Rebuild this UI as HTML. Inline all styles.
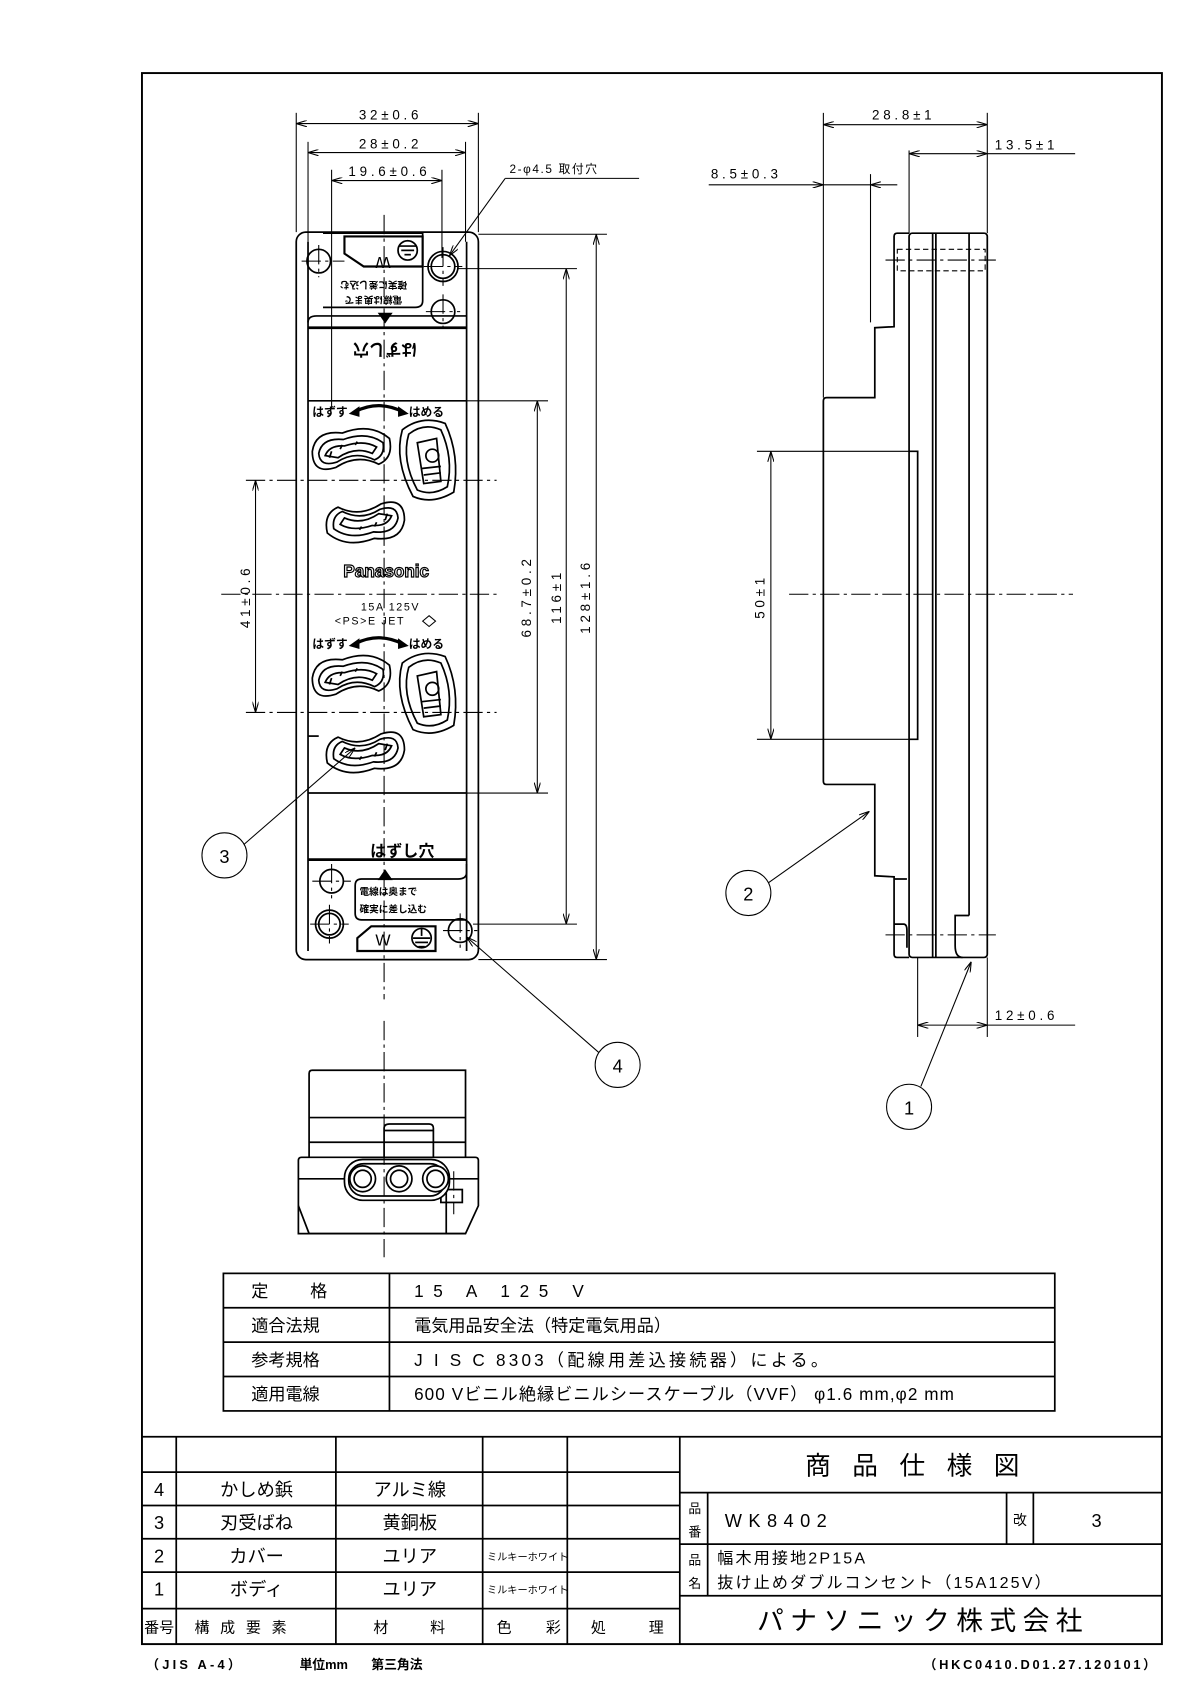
<!DOCTYPE html>
<html><head><meta charset="utf-8">
<style>
html,body{margin:0;padding:0;background:#fff;}
svg{display:block;}
text{font-family:"Liberation Sans","Noto Sans CJK JP",sans-serif;fill:#000;}
.dim{font-size:12.5px;letter-spacing:3.5px;}
</style></head>
<body>
<svg width="1190" height="1683" viewBox="-1.5 0 1110.7 1566.2" preserveAspectRatio="none" xmlns="http://www.w3.org/2000/svg">
<defs>
<marker id="ar" viewBox="0 0 10 6" refX="10" refY="3" markerWidth="10" markerHeight="6" orient="auto-start-reverse" markerUnits="userSpaceOnUse">
<path d="M0,0 L10,3 L0,6" fill="none" stroke="#000" stroke-width="1"/></marker>
<g id="ho" fill="none" stroke="#000" stroke-width="1.6">
<path d="M-36,-2 Q-33,-22 -8,-19 Q18,-29 36,-14 Q40,4 26,10 Q6,0 -14,13 Q-36,20 -36,-2Z"/>
<path d="M-30,0 Q-27,-15 -7,-13 Q15,-21 30,-10 Q32,2 22,6 Q4,-3 -13,8 Q-29,13 -30,0Z"/>
<path d="M-24,2 Q-20,-8 -6,-7 Q12,-13 24,-6 L20,0 Q4,-7 -12,4 Z"/>
<path d="M-20,4 L-18,-2 M-10,-4 L-8,-8 M4,-8 L6,-11" />
</g>
<g id="vo" fill="none" stroke="#000" stroke-width="1.6">
<path d="M-24,-28 Q-6,-42 16,-34 Q30,-4 24,30 Q4,42 -14,34 Q-32,0 -24,-28Z"/>
<path d="M-18,-24 Q-4,-35 12,-28 Q24,-2 18,25 Q4,34 -10,28 Q-25,0 -18,-24Z"/>
<path d="M-10,-16 L8,-20 L12,20 L-4,22 Z"/>
<circle cx="4" cy="-4" r="6"/>
<path d="M-6,8 L12,6 M-4,14 L12,12"/>
</g>
</defs>

<rect x="131" y="68" width="952" height="1462" fill="none" stroke="#000" stroke-width="1.8"/>

<!-- ===== FRONT VIEW ===== -->
<g fill="none" stroke="#000" stroke-width="1.6">
<rect x="275" y="216" width="170" height="677" rx="9"/>
<line x1="286" y1="225" x2="286" y2="885"/>
<line x1="434" y1="225" x2="434" y2="885"/>
<path d="M300,217 L393,217 L393,280 Q393,286 386,286 L300,286"/>
<path d="M320,220 L393,220 L393,248 L338,248 L320,236 Z" stroke-width="2"/>
<circle cx="379" cy="233" r="9"/>
<line x1="371" y1="229" x2="387" y2="229"/><line x1="373" y1="233" x2="385" y2="233"/><line x1="376" y1="237" x2="382" y2="237"/>
<circle cx="296" cy="243" r="11"/>
<circle cx="412" cy="248" r="14"/><circle cx="412" cy="248" r="11"/>
<circle cx="412" cy="290" r="11"/>
<path d="M286,300 Q286,294 294,294 L434,294"/>
<line x1="286" y1="305" x2="434" y2="305" stroke-width="2.6"/>
<line x1="286" y1="373" x2="434" y2="373"/>
<line x1="286" y1="738" x2="434" y2="738"/>
<line x1="286" y1="685" x2="296" y2="685"/>
<line x1="286" y1="800" x2="434" y2="800" stroke-width="2.6"/>
<path d="M434,804 L434,812 Q434,818 426,818 L336,818 Q330,818 330,824 L330,850 Q330,856 336,856 L434,856"/>
<path d="M332,873 L345,862 L405,862 L405,885 L332,885 Z" stroke-width="2"/>
<circle cx="392" cy="873" r="9"/>
<line x1="392" y1="864" x2="392" y2="871"/><line x1="384" y1="873" x2="400" y2="873"/><line x1="386" y1="877" x2="398" y2="877"/><line x1="389" y1="881" x2="395" y2="881"/>
<circle cx="308" cy="820" r="11"/>
<circle cx="306" cy="860" r="13"/><circle cx="306" cy="860" r="10"/>
<circle cx="428" cy="866" r="11"/>
</g>
<polygon points="351,291 365,291 358,301" fill="#000"/>
<polygon points="351,819 365,819 358,809" fill="#000"/>
<text x="356" y="229" font-size="15" text-anchor="middle" transform="rotate(180 356 234)">W</text>
<text x="347" y="262" font-size="9" font-weight="bold" text-anchor="middle" transform="rotate(180 347 262)">確実に差し込む</text>
<text x="347" y="276" font-size="9" font-weight="bold" text-anchor="middle" transform="rotate(180 347 276)">電線は奥まで</text>
<text x="358" y="320" font-size="15" font-weight="bold" text-anchor="middle" transform="rotate(180 358 320)">はずし穴</text>
<text x="374" y="797" font-size="15" font-weight="bold" text-anchor="middle">はずし穴</text>
<text x="334" y="833" font-size="9" font-weight="bold">電線は奥まで</text>
<text x="334" y="849" font-size="9" font-weight="bold">確実に差し込む</text>
<text x="356" y="880" font-size="15" text-anchor="middle">W</text>

<text x="290" y="387" font-size="11" font-weight="bold">はずす</text>
<text x="380" y="387" font-size="11" font-weight="bold">はめる</text>
<path d="M330,383 Q352,372 374,383" fill="none" stroke="#000" stroke-width="3"/>
<polygon points="324,385 334,378 334,388" fill="#000"/><polygon points="380,385 370,378 370,388" fill="#000"/>
<text x="290" y="603" font-size="11" font-weight="bold">はずす</text>
<text x="380" y="603" font-size="11" font-weight="bold">はめる</text>
<path d="M330,599 Q352,588 374,599" fill="none" stroke="#000" stroke-width="3"/>
<polygon points="324,601 334,594 334,604" fill="#000"/><polygon points="380,601 370,594 370,604" fill="#000"/>

<use href="#ho" x="326" y="422"/>
<use href="#vo" x="398" y="428"/>
<use href="#ho" x="340" y="482" transform="rotate(180 340 482)"/>
<use href="#ho" x="326" y="633"/>
<use href="#vo" x="398" y="645"/>
<use href="#ho" x="340" y="696" transform="rotate(180 340 696)"/>

<text x="359" y="537" font-size="16" font-weight="bold" text-anchor="middle" style="fill:#fff;stroke:#000;stroke-width:1.1px">Panasonic</text>
<text x="363" y="568" font-size="10" text-anchor="middle" letter-spacing="1.5">15A 125V</text>
<text x="311" y="581" font-size="10" letter-spacing="1.5">&lt;PS&gt;E JET</text>
<path d="M393,578 L399,573 L405,578 L399,583 Z" fill="none" stroke="#000" stroke-width="1"/>

<g stroke="#000" stroke-width="1" stroke-dasharray="18,4,3,4" fill="none">
<line x1="357" y1="200" x2="357" y2="930"/>
<line x1="205" y1="553" x2="462" y2="553"/>
<line x1="228" y1="447" x2="462" y2="447"/>
<line x1="228" y1="663" x2="462" y2="663"/>
<line x1="280" y1="243" x2="320" y2="243"/><line x1="296" y1="228" x2="296" y2="258"/>
<line x1="394" y1="248" x2="430" y2="248"/><line x1="412" y1="230" x2="412" y2="266"/>
<line x1="396" y1="290" x2="428" y2="290"/><line x1="412" y1="274" x2="412" y2="306"/>
<line x1="290" y1="820" x2="326" y2="820"/><line x1="308" y1="804" x2="308" y2="836"/>
<line x1="288" y1="860" x2="324" y2="860"/><line x1="306" y1="842" x2="306" y2="878"/>
<line x1="412" y1="866" x2="444" y2="866"/><line x1="428" y1="850" x2="428" y2="882"/>
</g>

<g stroke="#000" stroke-width="1" fill="none">
<line x1="275" y1="105" x2="275" y2="216"/><line x1="445" y1="105" x2="445" y2="216"/>
<line x1="286" y1="132" x2="286" y2="225"/><line x1="433" y1="132" x2="433" y2="225"/>
<line x1="308" y1="158" x2="308" y2="380"/><line x1="411" y1="158" x2="411" y2="240"/>
<line x1="275" y1="115" x2="445" y2="115" marker-start="url(#ar)" marker-end="url(#ar)"/>
<line x1="286" y1="142" x2="433" y2="142" marker-start="url(#ar)" marker-end="url(#ar)"/>
<line x1="308" y1="168" x2="411" y2="168" marker-start="url(#ar)" marker-end="url(#ar)"/>
<line x1="595" y1="166" x2="470" y2="166"/><line x1="470" y1="166" x2="418" y2="238" marker-end="url(#ar)"/>
<line x1="445" y1="218" x2="565" y2="218"/><line x1="445" y1="893" x2="565" y2="893"/>
<line x1="426" y1="250" x2="537" y2="250"/><line x1="440" y1="860" x2="537" y2="860"/>
<line x1="434" y1="373" x2="510" y2="373"/><line x1="434" y1="738" x2="510" y2="738"/>
<line x1="555" y1="218" x2="555" y2="893" marker-start="url(#ar)" marker-end="url(#ar)"/>
<line x1="527" y1="250" x2="527" y2="860" marker-start="url(#ar)" marker-end="url(#ar)"/>
<line x1="500" y1="373" x2="500" y2="738" marker-start="url(#ar)" marker-end="url(#ar)"/>
<line x1="237" y1="447" x2="237" y2="663" marker-start="url(#ar)" marker-end="url(#ar)"/>
</g>
<text x="363" y="111" class="dim" text-anchor="middle">32±0.6</text>
<text x="363" y="138" class="dim" text-anchor="middle">28±0.2</text>
<text x="362" y="164" class="dim" text-anchor="middle">19.6±0.6</text>
<text x="474" y="161" font-size="11" letter-spacing="1.5">2-φ4.5 取付穴</text>
<text class="dim" text-anchor="middle" transform="translate(494 555) rotate(-90)">68.7±0.2</text>
<text class="dim" text-anchor="middle" transform="translate(522 555) rotate(-90)">116±1</text>
<text class="dim" text-anchor="middle" transform="translate(549 555) rotate(-90)">128±1.6</text>
<text class="dim" text-anchor="middle" transform="translate(232 555) rotate(-90)">41±0.6</text>

<!-- ===== SIDE VIEW ===== -->
<g fill="none" stroke="#000" stroke-width="1.6">
<path d="M847,217 L836,217 Q833,217 833,220 L833,304 L815,305 L815,370 L770,370 Q767,370 767,373 L767,727 Q767,730 770,730 L815,730 L815,815 L833,816 L833,888 Q833,891 836,891 L847,891"/>
<rect x="847" y="217" width="73" height="674" rx="3"/>
<line x1="869" y1="217" x2="869" y2="891"/><line x1="872" y1="217" x2="872" y2="891"/>
<line x1="903" y1="217" x2="903" y2="852"/>
<path d="M847,420 L855,420 L855,688 L847,688"/>
<path d="M903,852 L890,852 L890,880 Q890,891 897,891"/>
<path d="M833,860 L842,860 Q845,860 845,866 L845,882"/>
<line x1="833" y1="818" x2="845" y2="818"/>
</g>
<g stroke="#000" stroke-width="1" fill="none" stroke-dasharray="5,3">
<rect x="836" y="232" width="82" height="20"/>
<line x1="847" y1="232" x2="847" y2="252"/>
</g>
<g stroke="#000" stroke-width="1" fill="none" stroke-dasharray="18,4,3,4">
<line x1="825" y1="242" x2="928" y2="242"/>
<line x1="735" y1="553" x2="1000" y2="553"/>
<line x1="825" y1="870" x2="928" y2="870"/>
</g>
<g stroke="#000" stroke-width="1" fill="none">
<line x1="767" y1="105" x2="767" y2="370"/><line x1="920" y1="105" x2="920" y2="217"/>
<line x1="767" y1="116" x2="920" y2="116" marker-start="url(#ar)" marker-end="url(#ar)"/>
<line x1="847" y1="140" x2="847" y2="217"/>
<line x1="847" y1="143" x2="920" y2="143" marker-start="url(#ar)" marker-end="url(#ar)"/>
<line x1="920" y1="143" x2="1002" y2="143"/>
<line x1="811" y1="162" x2="811" y2="300"/>
<line x1="660" y1="172" x2="767" y2="172" marker-end="url(#ar)"/>
<line x1="767" y1="172" x2="811" y2="172"/>
<line x1="836" y1="172" x2="811" y2="172" marker-end="url(#ar)"/>
<line x1="705" y1="420" x2="855" y2="420"/><line x1="705" y1="688" x2="855" y2="688"/>
<line x1="718" y1="420" x2="718" y2="688" marker-start="url(#ar)" marker-end="url(#ar)"/>
<line x1="855" y1="891" x2="855" y2="965"/><line x1="920" y1="891" x2="920" y2="965"/>
<line x1="855" y1="954" x2="920" y2="954" marker-start="url(#ar)" marker-end="url(#ar)"/>
<line x1="920" y1="954" x2="1002" y2="954"/>
</g>
<text x="842" y="111" class="dim" text-anchor="middle">28.8±1</text>
<text x="927" y="139" class="dim">13.5±1</text>
<text x="662" y="166" class="dim">8.5±0.3</text>
<text x="927" y="949" class="dim">12±0.6</text>
<text class="dim" text-anchor="middle" transform="translate(712 555) rotate(-90)">50±1</text>

<g stroke="#000" stroke-width="1" fill="#fff">
<line x1="858" y1="1011" x2="905" y2="895" marker-end="url(#ar)"/>
<line x1="715" y1="822" x2="810" y2="755" marker-end="url(#ar)"/>
<line x1="226" y1="786" x2="330" y2="696" marker-end="url(#ar)"/>
<line x1="558" y1="980" x2="434" y2="872" marker-end="url(#ar)"/>
<circle cx="847" cy="1030" r="21"/>
<circle cx="697" cy="831" r="21"/>
<circle cx="208" cy="796" r="21"/>
<circle cx="575" cy="991" r="21"/>
</g>
<text x="847" y="1037" font-size="17" text-anchor="middle">1</text>
<text x="697" y="838" font-size="17" text-anchor="middle">2</text>
<text x="208" y="803" font-size="17" text-anchor="middle">3</text>
<text x="575" y="998" font-size="17" text-anchor="middle">4</text>

<!-- ===== BOTTOM VIEW ===== -->
<g fill="none" stroke="#000" stroke-width="1.6">
<path d="M287,1077 L287,999 Q287,996 290,996 L433,996 L433,1077"/>
<line x1="287" y1="1040" x2="433" y2="1040"/>
<line x1="287" y1="1063" x2="433" y2="1063"/>
<path d="M357,1077 L357,1050 Q357,1046 362,1046 L399,1046 Q403,1046 403,1050 L403,1077"/>
<line x1="357" y1="1052" x2="403" y2="1052"/>
<path d="M277,1148 L277,1080 Q277,1077 280,1077 L442,1077 Q445,1077 445,1080 L445,1122 L433,1148 Z"/>
<path d="M277,1122 L287,1148 L433,1148"/>
<line x1="277" y1="1097" x2="445" y2="1097"/>
<line x1="415" y1="1110" x2="415" y2="1148"/>
<rect x="410" y="1107" width="20" height="12"/>
<rect x="320" y="1079" width="98" height="38" rx="17" fill="#fff"/>
<rect x="324" y="1083" width="90" height="30" rx="14"/>
<circle cx="337" cy="1097" r="12" fill="#fff"/><circle cx="337" cy="1097" r="8"/>
<circle cx="371" cy="1097" r="12" fill="#fff"/><circle cx="371" cy="1097" r="8"/>
<circle cx="405" cy="1097" r="12" fill="#fff"/><circle cx="405" cy="1097" r="8"/>
</g>
<g stroke="#000" stroke-width="1" stroke-dasharray="18,4,3,4"><line x1="357" y1="950" x2="357" y2="1170"/><line x1="422" y1="1090" x2="422" y2="1130"/></g>

<!-- ===== SPEC TABLE ===== -->
<g fill="none" stroke="#000" stroke-width="1.6">
<rect x="207" y="1185" width="776" height="128"/>
<line x1="207" y1="1217" x2="983" y2="1217"/>
<line x1="207" y1="1249" x2="983" y2="1249"/>
<line x1="207" y1="1281" x2="983" y2="1281"/>
<line x1="362" y1="1185" x2="362" y2="1313"/>
</g>
<g font-size="16">
<text x="233" y="1207">定</text><text x="288" y="1207">格</text>
<text x="233" y="1239">適合法規</text>
<text x="233" y="1271">参考規格</text>
<text x="233" y="1303">適用電線</text>
<text x="385" y="1207" letter-spacing="9">15 A 125 V</text>
<text x="385" y="1239">電気用品安全法（特定電気用品）</text>
<text x="385" y="1271" letter-spacing="3">J I S  C  8303（配線用差込接続器）による。</text>
<text x="385" y="1303" letter-spacing="1">600 Vビニル絶縁ビニルシースケーブル（VVF） φ1.6 mm,φ2 mm</text>
</g>

<!-- ===== TITLE BLOCK ===== -->
<g fill="none" stroke="#000" stroke-width="1.6">
<line x1="131" y1="1337" x2="1083" y2="1337"/>
<line x1="633" y1="1337" x2="633" y2="1530"/>
<line x1="163" y1="1337" x2="163" y2="1530"/>
<line x1="312" y1="1337" x2="312" y2="1530"/>
<line x1="449" y1="1337" x2="449" y2="1530"/>
<line x1="528" y1="1337" x2="528" y2="1530"/>
<line x1="131" y1="1370" x2="633" y2="1370"/>
<line x1="131" y1="1401" x2="633" y2="1401"/>
<line x1="131" y1="1432" x2="633" y2="1432"/>
<line x1="131" y1="1463" x2="633" y2="1463"/>
<line x1="131" y1="1497" x2="633" y2="1497"/>
<line x1="633" y1="1389" x2="1083" y2="1389"/>
<line x1="633" y1="1437" x2="1083" y2="1437"/>
<line x1="633" y1="1485" x2="1083" y2="1485"/>
<line x1="659" y1="1389" x2="659" y2="1485"/>
<line x1="938" y1="1389" x2="938" y2="1437"/>
<line x1="963" y1="1389" x2="963" y2="1437"/>
</g>
<g font-size="17">
<text x="147" y="1392" text-anchor="middle">4</text>
<text x="147" y="1423" text-anchor="middle">3</text>
<text x="147" y="1454" text-anchor="middle">2</text>
<text x="147" y="1485" text-anchor="middle">1</text>
<text x="238" y="1392" text-anchor="middle">かしめ鋲</text>
<text x="238" y="1423" text-anchor="middle">刃受ばね</text>
<text x="238" y="1454" text-anchor="middle">カバー</text>
<text x="238" y="1485" text-anchor="middle">ボディ</text>
<text x="381" y="1392" text-anchor="middle">アルミ線</text>
<text x="381" y="1423" text-anchor="middle">黄銅板</text>
<text x="381" y="1454" text-anchor="middle">ユリア</text>
<text x="381" y="1485" text-anchor="middle">ユリア</text>
</g>
<text x="453" y="1452" font-size="9.5">ミルキーホワイト</text>
<text x="453" y="1483" font-size="9.5">ミルキーホワイト</text>
<g font-size="14">
<text x="133" y="1519">番号</text>
<text x="180" y="1519" letter-spacing="10">構成要素</text>
<text x="347" y="1519">材</text><text x="400" y="1519">料</text>
<text x="462" y="1519">色</text><text x="508" y="1519">彩</text>
<text x="550" y="1519">処</text><text x="604" y="1519">理</text>
</g>
<text x="860" y="1372" font-size="24" text-anchor="middle" letter-spacing="20">商品仕様図</text>
<text x="641" y="1408" font-size="12">品</text><text x="641" y="1430" font-size="12">番</text>
<text x="675" y="1421" font-size="17" letter-spacing="6">WK8402</text>
<text x="944" y="1419" font-size="13">改</text>
<text x="1022" y="1421" font-size="17" text-anchor="middle">3</text>
<text x="641" y="1456" font-size="12">品</text><text x="641" y="1478" font-size="12">名</text>
<text x="668" y="1455" font-size="15" letter-spacing="2">幅木用接地2P15A</text>
<text x="668" y="1478" font-size="15" letter-spacing="2">抜け止めダブルコンセント（15A125V）</text>
<text x="860" y="1517" font-size="25" text-anchor="middle" letter-spacing="6">パナソニック株式会社</text>

<text x="135" y="1553" font-size="12" font-weight="bold" letter-spacing="3">（JIS A-4）</text>
<text x="278" y="1553" font-size="12" font-weight="bold">単位mm</text>
<text x="345" y="1553" font-size="12" font-weight="bold">第三角法</text>
<text x="1080" y="1553" font-size="12" font-weight="bold" text-anchor="end" letter-spacing="2.5">（HKC0410.D01.27.120101）</text>
</svg>
</body></html>
